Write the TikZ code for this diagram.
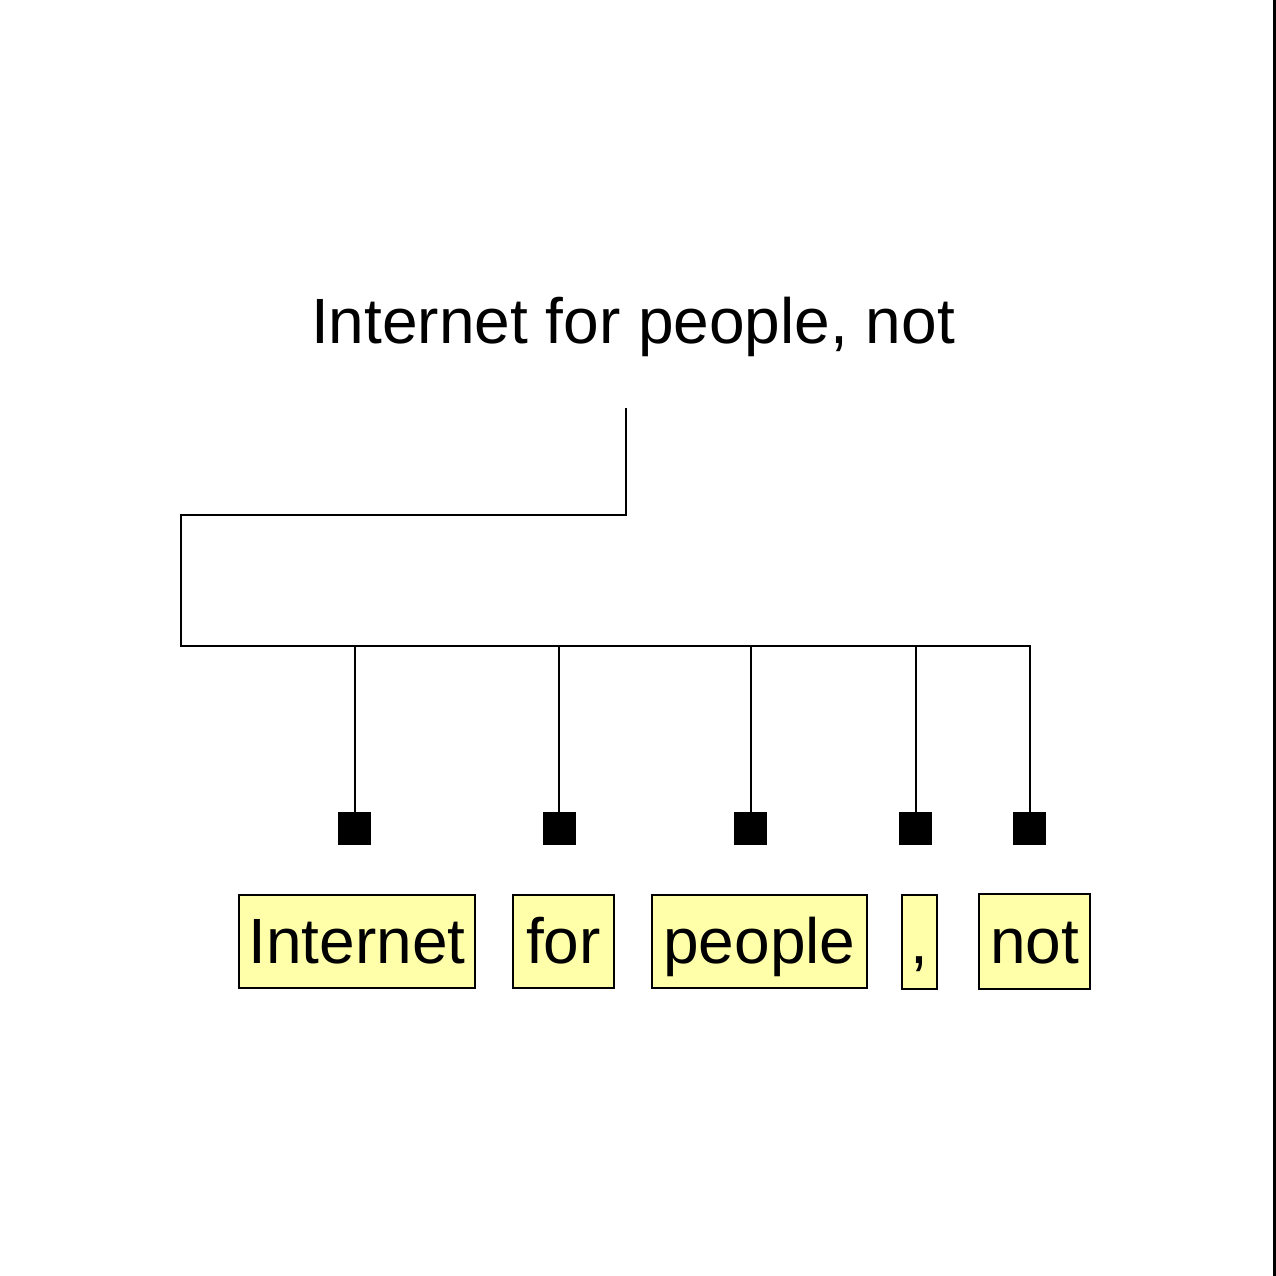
\documentclass[tikz,border=0pt]{standalone}
\usepackage{fontspec}
\setmainfont{Liberation Sans}
\definecolor{tokfill}{RGB}{255,255,170}
\begin{document}
\begin{tikzpicture}[x=0.5pt,y=-0.5pt,
  conn/.style={draw=black,line width=1pt},
  tok/.style={draw=black,line width=1pt,fill=tokfill,rectangle,inner sep=0pt,
    minimum height=46.5pt,text height=21.5pt,text depth=0pt,font=\fontsize{32}{38}\selectfont},
  sq/.style={fill=black,rectangle,inner sep=0pt,minimum size=16.5pt},
  title/.style={inner sep=0pt,font=\fontsize{32}{38}\selectfont,anchor=base}]
\useasboundingbox (0,0) rectangle (1276,1276);
\fill[white] (0,0) rectangle (1276,1276);
\draw[line width=1.2pt] (1274.5,0) -- (1274.5,1276);
\node[title] (t) at (633,343) {Internet for people, not};
\coordinate (root) at (626,408);
\coordinate (k1) at (626,515);
\coordinate (k2) at (181,515);
\coordinate (k3) at (181,646);
\coordinate (bend) at (1029.5,646);
\node[sq] (s1) at (354.5,828.5) {};
\node[sq] (s2) at (559,828.5) {};
\node[sq] (s3) at (750.5,828.5) {};
\node[sq] (s4) at (915.5,828.5) {};
\node[sq] (s5) at (1029.5,828.5) {};
\draw[conn] (root) -- (k1) -- (k2) -- (k3) -- (bend) -- (s5.north);
\foreach \i in {1,2,3,4} \draw[conn] (s\i.north |- k3) -- (s\i.north);
\node[tok,minimum width=118pt] (w1) at (357,941.5) {Internet};
\node[tok,minimum width=50.5pt] (w2) at (563.5,941.5) {for};
\node[tok,minimum width=107.5pt] (w3) at (759.5,941.5) {people};
\node[tok,minimum width=17.5pt,minimum height=47pt] (w4) at (919.5,942) {,};
\node[tok,minimum width=55.5pt,minimum height=47.5pt] (w5) at (1034.5,941.5) {not};
\end{tikzpicture}
\end{document}
